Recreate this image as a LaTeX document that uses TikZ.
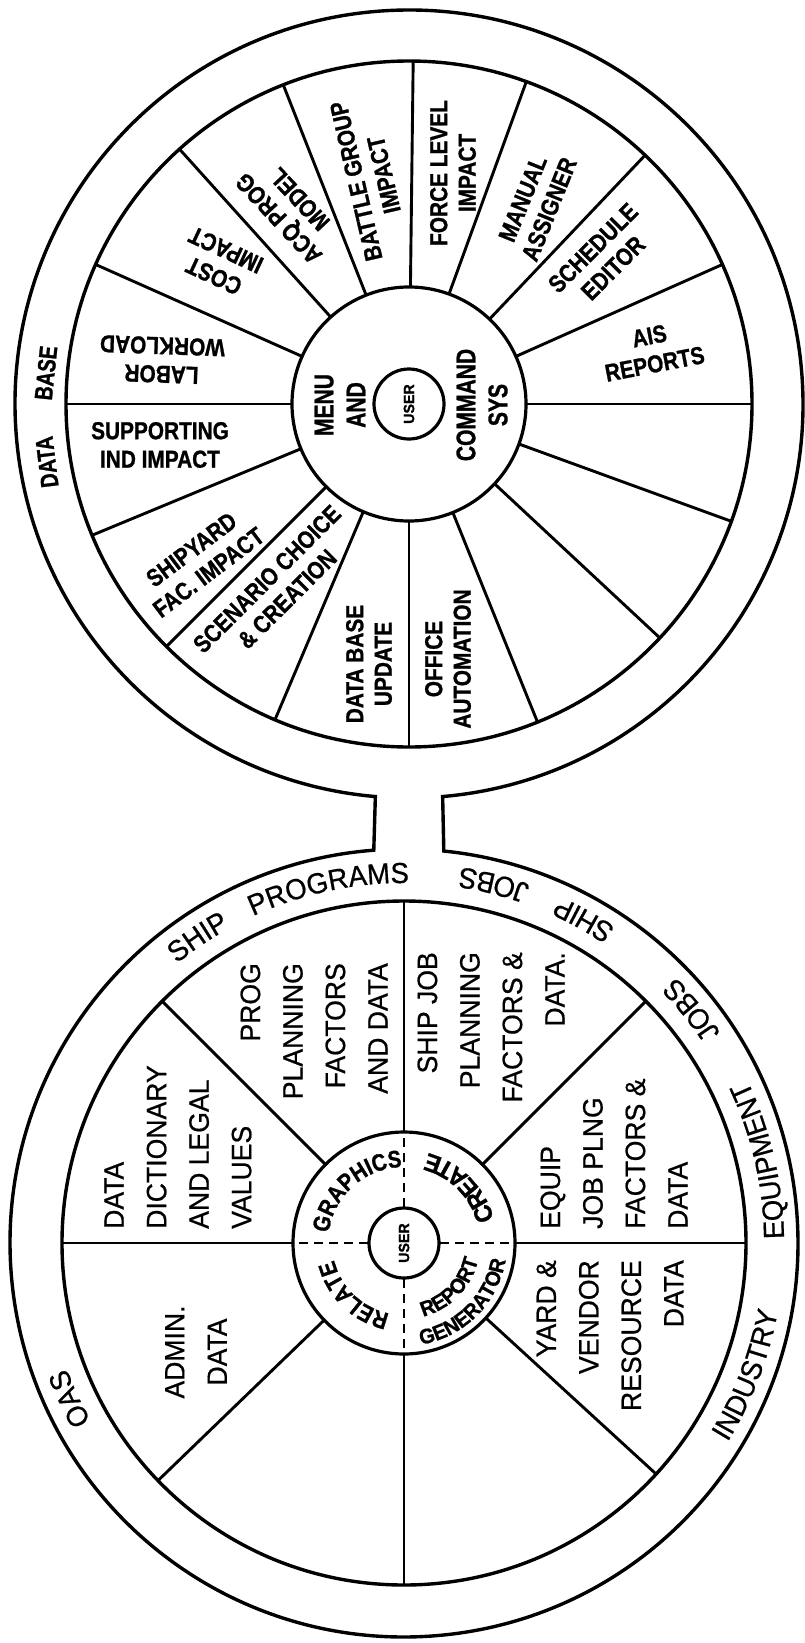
\documentclass[tikz,border=0pt]{standalone}
\usepackage{fontspec}
\usetikzlibrary{calc,decorations.text}
\newfontfamily\fTop[FakeStretch=0.85,FakeBold=1]{Liberation Sans}
\newfontfamily\fHub[FakeStretch=0.78,FakeBold=1]{Liberation Sans}
\newfontfamily\fUsr[FakeStretch=0.95,FakeBold=1]{Liberation Sans}
\newfontfamily\fBot[FakeStretch=0.95,FakeBold=0.6]{Liberation Sans}
\newcommand\ftTop{\fTop\bfseries\fontsize{24.5}{28.5}\selectfont}
\newcommand\ftHub{\fHub\bfseries\fontsize{27}{32}\selectfont}
\newcommand\ftBot{\fBot\fontsize{28}{42.5}\selectfont}
\newcommand\ftRing{\fBot\fontsize{29}{34}\selectfont}
\newcommand\ftHubB{\fTop\bfseries\fontsize{24}{26}\selectfont}
\newcommand\ftCre{\fUsr\bfseries\fontsize{25}{27}\selectfont}
\newcommand\ftRep{\fUsr\bfseries\fontsize{21}{23}\selectfont}
\newcommand\ftUser{\fUsr\bfseries\fontsize{15}{16}\selectfont}
\newcommand\ftDB{\fHub\bfseries\fontsize{25}{28}\selectfont}
% curved words: center coordinate, baseline radius, mid angle, half span, text
\newcommand\cwword[5]{\path[decorate,decoration={text along path,text align=center,text={#5}}]
  ($(#1)+({#3+#4}:#2)$) arc[start angle={#3+#4},end angle={#3-#4},radius=#2];}
\newcommand\ccwword[5]{\path[decorate,decoration={text along path,text align=center,text={#5}}]
  ($(#1)+({#3-#4}:#2)$) arc[start angle={#3-#4},end angle={#3+#4},radius=#2];}
\begin{document}
\begin{tikzpicture}[x=1pt,y=1pt,
  ring/.style={line width=3.4pt},
  spoke/.style={line width=2.9pt},
  hubline/.style={line width=3.2pt},
  dashline/.style={line width=2.8pt,dash pattern=on 9pt off 6pt},
  tw/.style={font=\ftTop,align=center,inner sep=0pt},
  th/.style={font=\ftHub,align=center,inner sep=0pt},
  bw/.style={font=\ftBot,inner sep=0pt,rotate=90},
  usr/.style={font=\ftUser,inner sep=0pt,rotate=90},
  db/.style={font=\ftDB,inner sep=0pt}]
\useasboundingbox (0,0) rectangle (804,-1643);
\fill[white] (0,0) rectangle (804,-1643);
\coordinate (T) at (409,-404);
\coordinate (B) at (404,-1243);
% outer boundary with neck
\draw[ring] ($(T)+(-85.1:394)$) arc[start angle=-85.1,end angle=265.1,radius=394]
  -- ($(B)+(94.4:394)$) arc[start angle=94.4,end angle=444.2,radius=394] -- cycle;
% ---------------- top wheel ----------------
\draw[ring] (T) circle[radius=343];
\draw[hubline] (T) circle[radius=117];
\draw[hubline] (T) circle[radius=35];
\foreach \a in {0,24,46.5,70,89.3,111.5,132,156,180,202.5,225,247,270,292,317,340}
  \draw[spoke] ($(T)+(\a:117)$) -- ($(T)+(\a:343)$);
\node[tw,rotate=11]  (ais)      at (652,-350) {AIS\\REPORTS};
\node[tw,rotate=45]  (sched)    at (603,-258) {SCHEDULE\\EDITOR};
\node[tw,rotate=68]  (manual)   at (536,-204) {MANUAL\\ASSIGNER};
\node[tw,rotate=90]  (force)    at (453,-173) {FORCE LEVEL\\IMPACT};
\node[tw,rotate=103] (battle)   at (370,-178) {BATTLE GROUP\\IMPACT};
\node[tw,rotate=133] (acq)      at (289,-209) {ACQ PROG\\MODEL};
\node[tw,rotate=155] (cost)     at (220,-263) {COST\\IMPACT};
\node[tw,rotate=178] (labor)    at (162,-360) {LABOR\\WORKLOAD};
\node[tw,rotate=0]   (supp)     at (160,-445) {SUPPORTING\\IND IMPACT};
\node[tw,rotate=37]  (shipyard) at (200,-561) {SHIPYARD\\FAC. IMPACT};
\node[tw,rotate=45]  (scen)     at (277,-589) {SCENARIO CHOICE\\\& CREATION};
\node[tw,rotate=90]  (dbu)      at (369,-664) {DATA BASE\\UPDATE};
\node[tw,rotate=90]  (office)   at (448,-659) {OFFICE\\AUTOMATION};
\node[th,rotate=90]  (menu)     at (340,-405) {MENU\\AND};
\node[th,rotate=90]  (command)  at (482,-405) {COMMAND\\SYS};
\node[usr] (usertop) at (T) {USER};
\node[db,rotate=97] (data) at (47,-462) {DATA};
\node[db,rotate=84] (base) at (46,-373) {BASE};
% ---------------- bottom wheel ----------------
\draw[ring] (B) circle[radius=342];
\draw[hubline] (B) circle[radius=111];
\draw[hubline] (B) circle[radius=35];
\foreach \a in {0,45,90,135,180,224,270,317.5}
  \draw[spoke] ($(B)+(\a:111)$) -- ($(B)+(\a:342)$);
\foreach \a in {0,90,180,270}
  \draw[dashline] ($(B)+(\a:36)$) -- ($(B)+(\a:110)$);
\node[bw,anchor=west,align=left]  (dict)  at (178,-1229) {DATA\\DICTIONARY\\AND LEGAL\\VALUES};
\node[bw,anchor=east,align=right] (prog)  at (314,-963)  {PROG\\PLANNING\\FACTORS\\AND DATA};
\node[bw,anchor=east,align=right] (shipjob) at (491,-952) {SHIP JOB\\PLANNING\\FACTORS \&\\DATA.};
\node[bw,anchor=west,align=left]  (equip) at (614,-1229) {EQUIP\\JOB PLNG\\FACTORS \&\\DATA};
\node[bw,anchor=east,align=right] (yard)  at (610,-1260) {YARD \&\\VENDOR\\RESOURCE\\DATA};
\node[bw,align=center] (admin) at (196,-1352) {ADMIN.\\DATA};
\node[usr] (userbot) at (B) {USER};
% ring words
\cwword{B}{360}{124}{25}{|\ftRing|SHIP}
\cwword{B}{360}{102}{30}{|\ftRing|PROGRAMS}
\cwword{B}{360}{205}{20}{|\ftRing|OAS}
\ccwword{B}{380}{61}{20}{|\ftRing|SHIP}
\ccwword{B}{380}{76}{20}{|\ftRing|JOBS}
\ccwword{B}{380}{13}{30}{|\ftRing|EQUIPMENT}
\ccwword{B}{380}{39}{20}{|\ftRing|JOBS}
\ccwword{B}{380}{-21}{30}{|\ftRing|INDUSTRY}
% hub words
\cwword{B}{76}{132}{70}{|\ftHubB|GRAPHICS}
\cwword{B}{72}{226}{70}{|\ftHubB|RELATE}
\ccwword{B}{93}{45}{70}{|\ftCre|CREATE}
\ccwword{B}{76}{-44}{70}{|\ftRep|REPORT}
\ccwword{B}{103}{-45}{70}{|\ftRep|GENERATOR}
\end{tikzpicture}
\end{document}
